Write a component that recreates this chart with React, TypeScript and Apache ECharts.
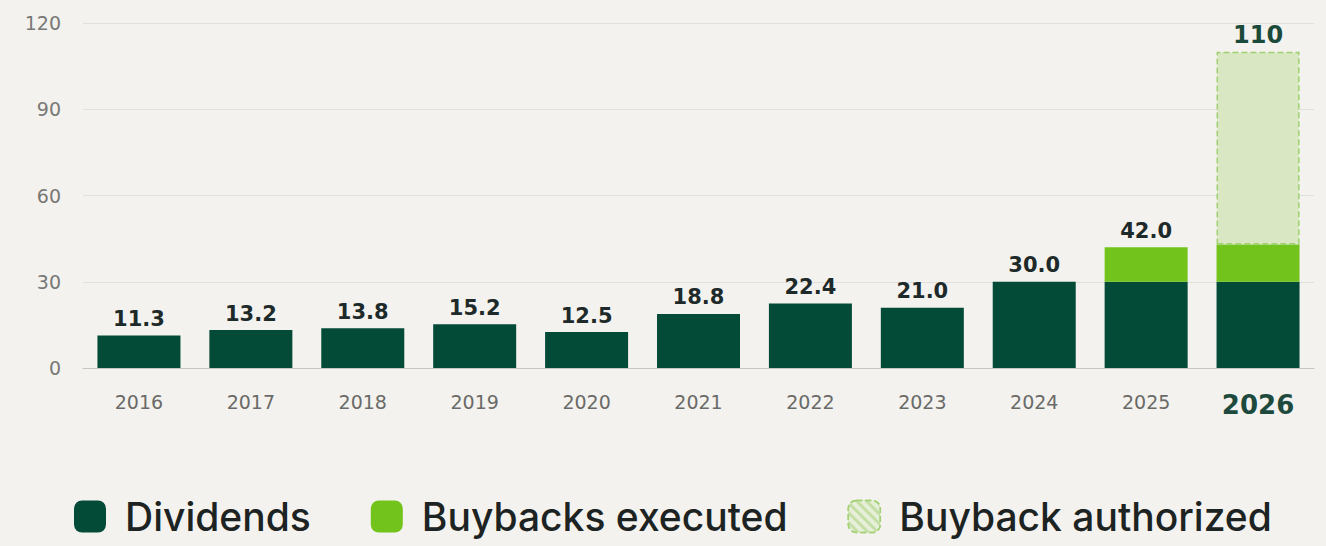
import React, { useEffect, useRef } from "react";
import * as echarts from "echarts";

const years = ["2016", "2017", "2018", "2019", "2020", "2021", "2022", "2023", "2024", "2025", "2026"];
const dividends = [11.3, 13.2, 13.8, 15.2, 12.5, 18.8, 22.4, 21.0, 30.0, 30.0, 30.0];
const buybacksExecuted = [0, 0, 0, 0, 0, 0, 0, 0, 0, 12.0, 13.0];
const buybackAuthorized = [0, 0, 0, 0, 0, 0, 0, 0, 0, 0, 67.0];
const yTicks = [0, 30, 60, 90, 120];

const DARK = "#034a37";
const LIME = "#72c41c";
const PALE = "#d9e8c2";
const BG = "#f3f2ee";

export default function App() {
  const ref = useRef<HTMLDivElement>(null);
  useEffect(() => {
    if (!ref.current) return;
    const chart = echarts.init(ref.current, null, { renderer: "svg" });
    const totals = years.map((_, i) => dividends[i] + buybacksExecuted[i] + buybackAuthorized[i]);
    const topSeries = years.map((_, i) =>
      buybackAuthorized[i] > 0 ? 2 : buybacksExecuted[i] > 0 ? 1 : 0
    );
    const labelStyle = {
      show: true,
      position: "top",
      distance: 6,
      fontFamily: "DejaVu Sans",
      fontWeight: "bold",
      fontSize: 21,
      color: "#1e2a29",
    };
    const mk = (arr: number[], s: number) =>
      arr.map((v, i) => {
        const isTop = topSeries[i] === s;
        const last = i === years.length - 1;
        return {
          value: v === 0 ? null : v,
          label: isTop
            ? {
                ...labelStyle,
                formatter: () => (last ? String(Math.round(totals[i])) : totals[i].toFixed(1)),
                color: last ? "#1b4a3b" : "#1e2a29",
                fontSize: last ? 24 : 21,
                distance: last ? 5 : 6,
              }
            : { show: false },
        };
      });
    chart.setOption({
      animation: false,
      backgroundColor: BG,
      grid: { left: 83, right: 12, top: 23, bottom: 178 },
      legend: {
        left: 69,
        bottom: 5,
        itemWidth: 32,
        itemHeight: 32,
        itemGap: 60,
        icon: "roundRect",
        textStyle: { fontFamily: "Inter", fontSize: 39, fontWeight: 500, color: "#1c2322", padding: [0, 0, 0, 14] },
        data: [
          { name: "Dividends" },
          { name: "Buybacks executed" },
          {
            name: "Buyback authorized",
            itemStyle: {
              color: "#e6f0d9",
              borderColor: "#a3d174",
              borderWidth: 1.5,
              borderType: "dashed",
              decal: {
                symbol: "rect",
                symbolSize: 1,
                color: "#c4dea6",
                dashArrayX: [1, 0],
                dashArrayY: [3, 4],
                rotation: Math.PI / 4,
              },
            },
          },
        ],
      },
      xAxis: {
        type: "category",
        data: years,
        axisTick: { show: false },
        axisLine: { lineStyle: { color: "#c6c6c2", width: 1 } },
        axisLabel: {
          interval: 0,
          margin: 24,
          fontFamily: "DejaVu Sans",
          fontSize: 19,
          color: "#6a6a68",
          formatter: (v: string) => (v === "2026" ? "{b|" + v + "}" : v),
          rich: {
            b: { fontFamily: "DejaVu Sans", fontSize: 26, color: "#1d4a3d", fontWeight: 600 },
          },
        },
      },
      yAxis: {
        type: "value",
        min: 0,
        max: 120,
        interval: 30,
        axisLabel: {
          margin: 22,
          fontFamily: "DejaVu Sans",
          fontSize: 19,
          color: "#787876",
          formatter: (v: number) => (yTicks.includes(v) ? String(v) : ""),
        },
        splitLine: { lineStyle: { color: "#e1e0dc", width: 1 } },
      },
      series: [
        {
          name: "Dividends",
          type: "bar",
          stack: "t",
          barWidth: 83,
          itemStyle: { color: DARK },
          data: mk(dividends, 0),
        },
        {
          name: "Buybacks executed",
          type: "bar",
          stack: "t",
          itemStyle: { color: LIME },
          data: mk(buybacksExecuted, 1),
        },
        {
          name: "Buyback authorized",
          type: "bar",
          stack: "t",
          itemStyle: { color: PALE, borderColor: "#9fd070", borderWidth: 1.5, borderType: "dashed" },
          data: mk(buybackAuthorized, 2),
        },
      ],
    });
    return () => chart.dispose();
  }, []);
  return <div ref={ref} style={{ position: "fixed", left: 0, top: 0, width: 1326, height: 546 }} />;
}
